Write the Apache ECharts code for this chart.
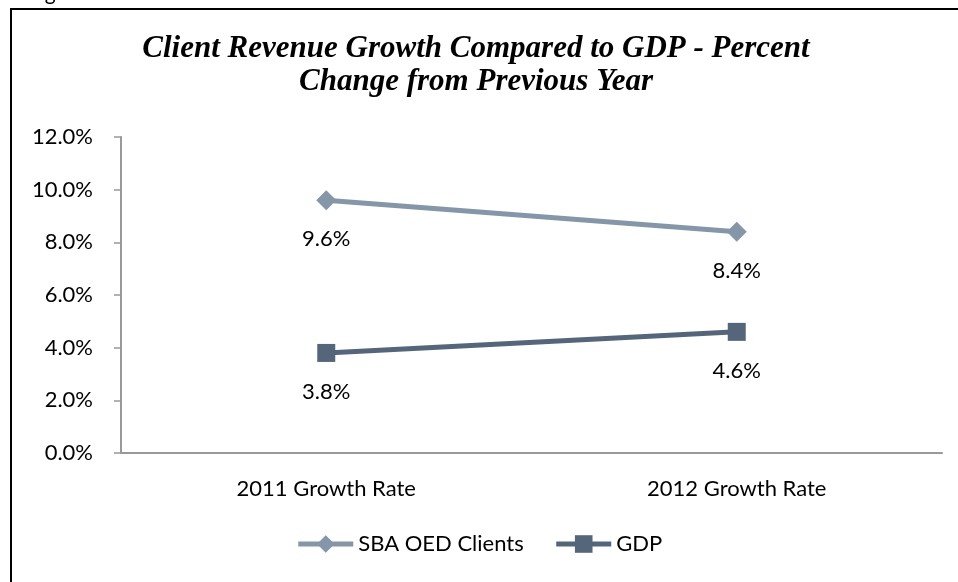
<!DOCTYPE html>
<html>
<head>
<meta charset="utf-8">
<script src="https://cdn.jsdelivr.net/npm/echarts@6/dist/echarts.min.js"></script>
<style>
  html, body { margin: 0; padding: 0; background: #fff; }
  #chart { width: 958px; height: 582px; }
</style>
</head>
<body>
<div id="chart"></div>
<script>
// Growth-rate categories and series values (percent)
const categories = ['2011 Growth Rate', '2012 Growth Rate'];
const sbaClients = [9.6, 8.4];
const gdp = [3.8, 4.6];
const yTicks = { min: 0, max: 12, interval: 2 };

const labelFont = 'Lato, "Open Sans", sans-serif';
const titleFont = '"Liberation Serif", "DejaVu Serif", serif';
const fontSize = 22;
const colorSba = '#8596A9';
const colorGdp = '#56667A';

const pct = v => v.toFixed(1) + '%';

const chart = echarts.init(document.getElementById('chart'), null, { renderer: 'canvas' });

chart.setOption({
  animation: false,
  backgroundColor: '#ffffff',
  graphic: [
    {
      type: 'rect',
      shape: { x: 11, y: 9, width: 1000, height: 700 },
      style: { fill: 'none', stroke: '#000', lineWidth: 2 },
      silent: true
    },
    {
      type: 'text',
      left: 28, top: -17,
      style: { text: 'Figure 3', font: '21px ' + labelFont, fill: '#000' },
      silent: true
    }
  ],
  title: {
    text: 'Client Revenue Growth Compared to GDP - Percent\nChange from Previous Year',
    left: 471, top: 27,
    textAlign: 'center',
    textStyle: {
      fontFamily: titleFont,
      fontStyle: 'italic',
      fontWeight: 'bold',
      fontSize: 31,
      lineHeight: 33,
      color: '#000'
    }
  },
  legend: {
    bottom: 22,
    left: 'center',
    itemWidth: 55,
    itemHeight: 22,
    itemGap: 30,
    lineStyle: { width: 5 },
    textStyle: { fontFamily: labelFont, fontSize: fontSize, color: '#000', padding: [0, 0, 0, 0] },
    data: ['SBA OED Clients', 'GDP']
  },
  grid: { left: 121, right: 16, top: 137, bottom: 129 },
  xAxis: {
    type: 'category',
    data: categories,
    boundaryGap: true,
    axisLine: { lineStyle: { color: '#999999', width: 2 } },
    axisTick: { show: false },
    axisLabel: { fontFamily: labelFont, fontSize: fontSize, color: '#000', margin: 25 }
  },
  yAxis: {
    type: 'value',
    min: yTicks.min, max: yTicks.max, interval: yTicks.interval,
    splitLine: { show: false },
    axisLine: { show: true, lineStyle: { color: '#999999', width: 2 } },
    axisTick: { show: true, inside: false, length: 7, lineStyle: { color: '#999999', width: 1.5 } },
    axisLabel: {
      fontFamily: labelFont, fontSize: fontSize, color: '#000', margin: 28,
      formatter: pct
    }
  },
  series: [
    {
      name: 'SBA OED Clients',
      type: 'line',
      data: sbaClients,
      symbol: 'diamond',
      symbolSize: 20,
      itemStyle: { color: colorSba },
      lineStyle: { color: colorSba, width: 5 },
      label: {
        show: true, position: 'bottom', distance: 18,
        fontFamily: labelFont, fontSize: fontSize, color: '#000',
        formatter: p => pct(p.value)
      }
    },
    {
      name: 'GDP',
      type: 'line',
      data: gdp,
      symbol: 'rect',
      symbolSize: 18,
      itemStyle: { color: colorGdp },
      lineStyle: { color: colorGdp, width: 5 },
      label: {
        show: true, position: 'bottom', distance: 19,
        fontFamily: labelFont, fontSize: fontSize, color: '#000',
        formatter: p => pct(p.value)
      }
    }
  ]
});
</script>
</body>
</html>
